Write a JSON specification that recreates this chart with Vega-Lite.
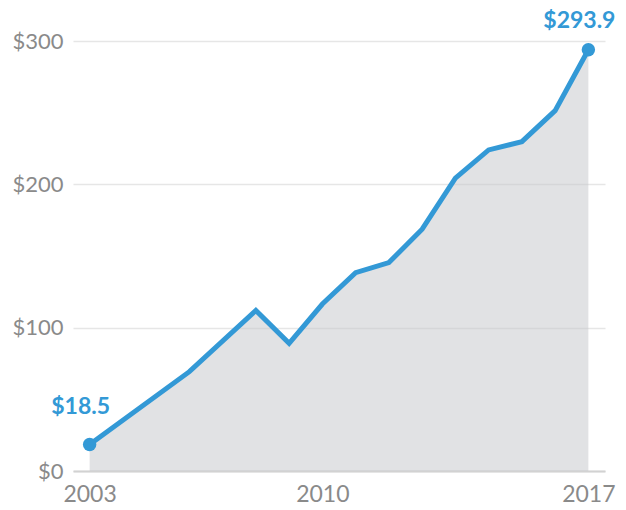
{
  "$schema": "https://vega.github.io/schema/vega-lite/v6.json",
  "width": 532,
  "height": 430,
  "autosize": {"type": "none"},
  "padding": {"left": 73, "top": 41, "right": 21, "bottom": 39},
  "background": "white",
  "config": {"view": {"stroke": null}, "font": "Lato"},
  "data": {"values": [
    {"i": 0, "value": 18.5},
    {"i": 3, "value": 69.3},
    {"i": 5, "value": 112},
    {"i": 6, "value": 89.1},
    {"i": 7, "value": 116.5},
    {"i": 8, "value": 138.4},
    {"i": 9, "value": 145.4},
    {"i": 10, "value": 168.7},
    {"i": 11, "value": 204.3},
    {"i": 12, "value": 224},
    {"i": 13, "value": 229.8},
    {"i": 14, "value": 251.4},
    {"i": 15, "value": 293.9}
  ]},
  "encoding": {
    "x": {"field": "i", "type": "quantitative", "scale": {"domain": [-0.5, 15.5], "nice": false, "zero": false},
      "axis": {"values": [0, 7, 15], "labelExpr": "datum.value == 0 ? '2003' : datum.value == 7 ? '2010' : '2017'",
        "title": null, "grid": false, "ticks": false, "domainColor": "#d2d2d2", "domainWidth": 2,
        "labelFontSize": 23, "labelColor": "#8a8a8a", "labelPadding": 12, "labelDx": -6, "labelFlush": false, "labelOverlap": false}},
    "y": {"field": "value", "type": "quantitative", "scale": {"domain": [0, 300], "nice": false},
      "axis": {"values": [0, 100, 200, 300], "labelExpr": "'$' + datum.value", "title": null,
        "grid": true, "gridColor": "#e6e6e6", "gridWidth": 1.5, "domain": false, "ticks": false,
        "labelFontSize": 22, "labelColor": "#8a8a8a", "labelPadding": 10, "labelDy": -2}}
  },
  "layer": [
    {"mark": {"type": "area", "color": "#c3c5c9", "opacity": 0.5}},
    {"mark": {"type": "line", "color": "#3399d6", "strokeWidth": 5, "strokeJoin": "miter"}},
    {"transform": [{"filter": "datum.i == 0 || datum.i == 15"}],
      "mark": {"type": "point", "filled": true, "color": "#3399d6", "opacity": 1, "size": 180}},
    {"transform": [{"filter": "datum.i == 0"}],
      "mark": {"type": "text", "color": "#3399d6", "fontSize": 23, "fontWeight": "bold", "dx": -9, "dy": -37, "clip": false},
      "encoding": {"text": {"field": "value", "type": "quantitative", "format": "$.1f"}}},
    {"transform": [{"filter": "datum.i == 15"}],
      "mark": {"type": "text", "color": "#3399d6", "fontSize": 23, "fontWeight": "bold", "dx": -9, "dy": -29, "clip": false},
      "encoding": {"text": {"field": "value", "type": "quantitative", "format": "$.1f"}}}
  ]
}
